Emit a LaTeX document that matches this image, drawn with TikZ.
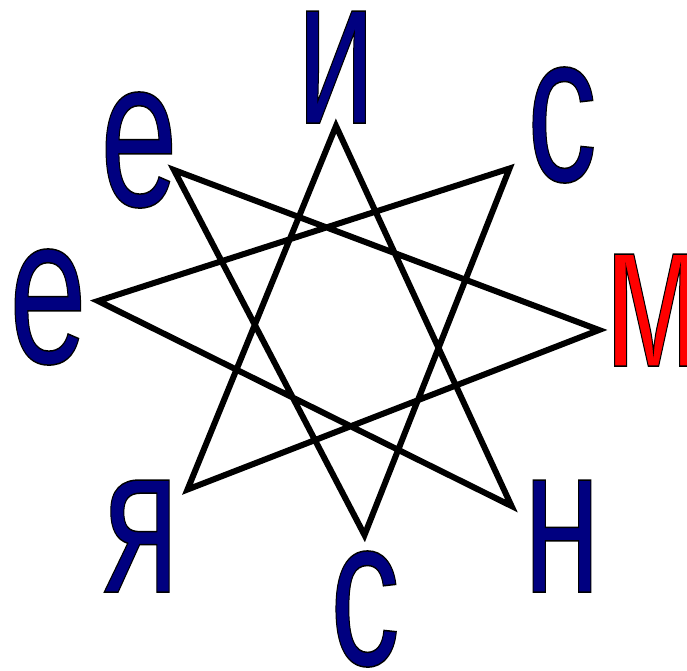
\documentclass[tikz,border=0pt]{standalone}
\usepackage{fontspec}
\usepackage{xcolor}
\newfontfamily\letterfont{Liberation Sans}
\definecolor{StarNavy}{RGB}{0,0,128}
\definecolor{StarRed}{RGB}{255,0,0}
\newcommand{\outlined}[1]{\special{pdf:literal direct 0 0 0 RG 1.5 w 2 Tr}#1\special{pdf:literal direct 0 Tr}}
\tikzset{
    letter/.style={font=\letterfont\fontsize{212}{212}\selectfont, text=StarNavy,
        inner sep=0pt, anchor=base, xscale=0.66},
    starline/.style={line width=6pt, line join=miter, miter limit=10}
}

\begin{document}
\begin{tikzpicture}[x=1pt, y=-1pt]
    \useasboundingbox (0,0) rectangle (687,670);

    % Star vertices
    \coordinate (p0) at (336,126);
    \coordinate (p1) at (509.5,168.5);
    \coordinate (p2) at (599,330);
    \coordinate (p3) at (511.5,506);
    \coordinate (p4) at (364.5,535);
    \coordinate (p5) at (187.5,489.5);
    \coordinate (p6) at (98,301);
    \coordinate (p7) at (174,170);

    % Star
    \draw[starline] (p0) -- (p3) -- (p6) -- (p1) -- (p4) -- (p7) -- (p2) -- (p5) -- cycle;

    % Letters
    \node[letter] (li) at (336,123) {\outlined{и}};
    \node[letter] (lc1) at (562,181) {\outlined{с}};
    \node[letter, text=StarRed] (lm) at (653,366) {\outlined{м}};
    \node[letter] (ln) at (562,592) {\outlined{н}};
    \node[letter] (lc2) at (365,665) {\outlined{с}};
    \node[letter] (lja) at (141,592) {\outlined{я}};
    \node[letter] (le1) at (48,363) {\outlined{е}};
    \node[letter] (le2) at (139,206) {\outlined{е}};

\end{tikzpicture}
\end{document}
